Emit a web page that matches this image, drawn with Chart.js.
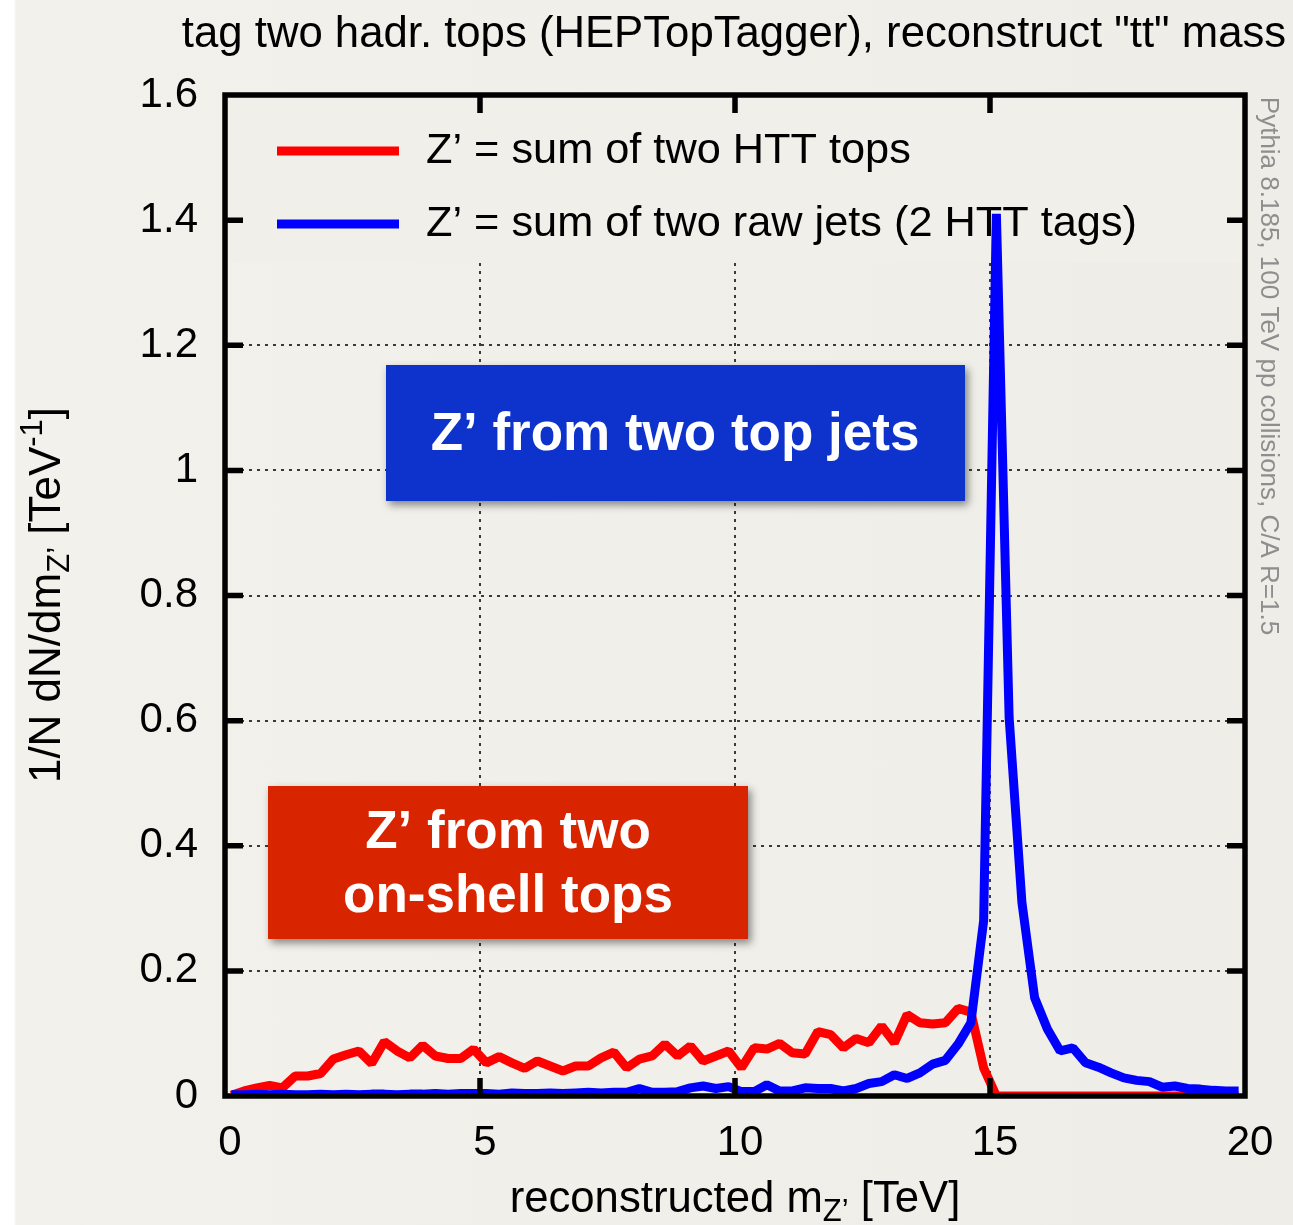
<!DOCTYPE html>
<html><head><meta charset="utf-8">
<script src="https://cdn.jsdelivr.net/npm/chart.js@4.4.1/dist/chart.umd.min.js"></script>
<style>
html,body{margin:0;padding:0;background:#f1efea;}
#wrap{position:relative;width:1293px;height:1225px;background:linear-gradient(to right,#ffffff 0,#ffffff 14px,#f3f1ec 16px,#efede8 100%);overflow:hidden;}
canvas{position:absolute;left:0;top:0;}
</style></head><body><div id="wrap"><canvas id="c" width="1293" height="1225"></canvas></div>
<script>
// ---- data ----
const binCenters = [0.125,0.375,0.625,0.875,1.125,1.375,1.625,1.875,2.125,2.375,2.625,2.875,3.125,3.375,3.625,3.875,
4.125,4.375,4.625,4.875,5.125,5.375,5.625,5.875,6.125,6.375,6.625,6.875,7.125,7.375,7.625,7.875,
8.125,8.375,8.625,8.875,9.125,9.375,9.625,9.875,10.125,10.375,10.625,10.875,11.125,11.375,11.625,11.875,
12.125,12.375,12.625,12.875,13.125,13.375,13.625,13.875,14.125,14.375,14.625,14.875,15.125,15.375,15.625,15.875,
16.125,16.375,16.625,16.875,17.125,17.375,17.625,17.875,18.125,18.375,18.625,18.875,19.125,19.375,19.625,19.875];
const redValues = [0.001,0.008,0.013,0.017,0.013,0.032,0.032,0.036,0.059,0.066,0.072,0.052,0.087,0.072,0.061,0.081,
0.064,0.060,0.060,0.075,0.053,0.063,0.053,0.044,0.056,0.048,0.040,0.048,0.048,0.061,0.070,0.045,
0.059,0.064,0.083,0.064,0.080,0.056,0.064,0.072,0.045,0.077,0.075,0.084,0.069,0.067,0.103,0.098,
0.077,0.092,0.085,0.112,0.085,0.130,0.117,0.115,0.117,0.140,0.134,0.045,0,0,0,0,
0,0,0,0,0,0,0,0,0,0,0,0,0,0,0,0];
const blueValues = [0.002,0.002,0.003,0.002,0.003,0.002,0.002,0.003,0.002,0.003,0.002,0.003,0.003,0.002,0.003,0.003,
0.004,0.003,0.004,0.004,0.004,0.003,0.005,0.004,0.004,0.005,0.004,0.005,0.006,0.005,0.006,0.006,
0.012,0.006,0.006,0.007,0.013,0.016,0.012,0.015,0.007,0.007,0.018,0.008,0.008,0.013,0.012,0.012,
0.008,0.012,0.020,0.023,0.034,0.028,0.037,0.051,0.057,0.083,0.117,0.280,1.410,0.605,0.310,0.157,
0.107,0.072,0.077,0.053,0.046,0.037,0.029,0.025,0.023,0.014,0.016,0.012,0.011,0.009,0.008,0.008];
const xTickValues = [0,5,10,15,20];
const xTickLabels = ["0","5","10","15","20"];
const yTickValues = [0,0.2,0.4,0.6,0.8,1.0,1.2,1.4,1.6];
const yTickLabels = ["0","0.2","0.4","0.6","0.8","1","1.2","1.4","1.6"];
const seriesLabels = ["Z\u2019 = sum of two HTT tops","Z\u2019 = sum of two raw jets (2 HTT tags)"];
const titleText = 'tag two hadr. tops (HEPTopTagger), reconstruct "tt" mass';
const sideText = "Pythia 8.185, 100 TeV pp collisions, C/A R=1.5";

// ---- styling ----
const FONT = '"Liberation Sans", Arial, Helvetica, sans-serif';
const BG = '#f1efea';
const RED = '#ff0000', BLUE = '#0000ff';

function pts(vals){ return binCenters.map((x,i)=>({x:x, y:vals[i]})); }

const keyPlugin = {
  id:'keyPlugin',
  beforeDatasetsDraw(chart){
    const ctx = chart.ctx, a = chart.chartArea;
    ctx.save();
    ctx.fillStyle = BG;
    ctx.fillRect(a.left, a.top, a.right - a.left, 262 - a.top);
    const rows = [151, 224];
    chart.data.datasets.forEach((ds,i)=>{
      ctx.strokeStyle = ds.borderColor; ctx.lineWidth = 9; ctx.lineCap='butt';
      ctx.beginPath(); ctx.moveTo(277, rows[i]); ctx.lineTo(399, rows[i]); ctx.stroke();
      ctx.fillStyle = '#000'; ctx.font = '43.3px ' + FONT; ctx.textBaseline='middle'; ctx.textAlign='left';
      ctx.fillText(ds.label, 426, rows[i]);
    });
    ctx.restore();
  }
};

const framePlugin = {
  id:'framePlugin',
  afterDatasetsDraw(chart){
    const ctx = chart.ctx, a = chart.chartArea, xs = chart.scales.x, ys = chart.scales.y;
    ctx.save();
    ctx.strokeStyle = '#000'; ctx.lineWidth = 5.5; ctx.lineCap='butt';
    ctx.strokeRect(a.left, a.top, a.right - a.left, a.bottom - a.top);
    const L = 18;
    ctx.beginPath();
    xTickValues.slice(1,-1).forEach(v=>{
      const px = xs.getPixelForValue(v);
      ctx.moveTo(px, a.bottom); ctx.lineTo(px, a.bottom - L);
      ctx.moveTo(px, a.top); ctx.lineTo(px, a.top + L);
    });
    yTickValues.slice(1,-1).forEach(v=>{
      const py = ys.getPixelForValue(v);
      ctx.moveTo(a.left, py); ctx.lineTo(a.left + L, py);
      ctx.moveTo(a.right, py); ctx.lineTo(a.right - L, py);
    });
    ctx.stroke();
    ctx.restore();
  }
};

function drawRuns(ctx, runs, x, y, align){
  let total = 0;
  runs.forEach(r=>{ ctx.font = r.size + 'px ' + FONT; r.w = ctx.measureText(r.t).width; total += r.w; });
  let cx = align === 'center' ? x - total/2 : x;
  runs.forEach(r=>{ ctx.font = r.size + 'px ' + FONT; ctx.fillText(r.t, cx, y + (r.dy||0)); cx += r.w; });
}

const textPlugin = {
  id:'textPlugin',
  afterDraw(chart){
    const ctx = chart.ctx;
    ctx.save();
    ctx.fillStyle = '#000'; ctx.textAlign='left'; ctx.textBaseline='alphabetic';
    // title
    ctx.font = '43.7px ' + FONT;
    ctx.textAlign = 'center';
    ctx.fillText(titleText, 734, 47);
    ctx.textAlign = 'left';
    // x axis title
    drawRuns(ctx, [{t:'reconstructed m', size:43.7},{t:'Z\u2019', size:31, dy:9},{t:' [TeV]', size:43.7}], 735, 1212, 'center');
    // y axis title
    ctx.save();
    ctx.translate(60, 595); ctx.rotate(-Math.PI/2);
    drawRuns(ctx, [{t:'1/N dN/dm', size:44},{t:'Z\u2019', size:31, dy:9},{t:' [TeV', size:44},{t:'-1', size:31, dy:-18},{t:']', size:44}], 0, 0, 'center');
    ctx.restore();
    // side text
    ctx.save();
    ctx.translate(1261, 366); ctx.rotate(Math.PI/2);
    ctx.fillStyle = '#8e8e8e'; ctx.font = '26px ' + FONT; ctx.textAlign='center'; ctx.textBaseline='alphabetic';
    ctx.fillText(sideText, 0, 0);
    ctx.restore();
    // annotation boxes
    const boxes = [
      {x:386, y:365, w:579, h:136, color:'#0d33cc', lines:['Z\u2019 from two top jets'], cx:675, ys:[435]},
      {x:268, y:786, w:480, h:153, color:'#d92400', lines:['Z\u2019 from two','on-shell tops'], cx:508, ys:[833,897]}
    ];
    boxes.forEach(b=>{
      ctx.save();
      ctx.shadowColor = 'rgba(0,0,0,0.45)'; ctx.shadowBlur = 8; ctx.shadowOffsetX = 3; ctx.shadowOffsetY = 4;
      ctx.fillStyle = b.color; ctx.fillRect(b.x, b.y, b.w, b.h);
      ctx.restore();
      ctx.fillStyle = '#fff'; ctx.font = 'bold 53px ' + FONT; ctx.textAlign='center'; ctx.textBaseline='middle';
      b.lines.forEach((l,i)=> ctx.fillText(l, b.cx, b.ys[i]));
    });
    ctx.restore();
  }
};

new Chart(document.getElementById('c'), {
  type:'line',
  data:{ datasets:[
    {label:seriesLabels[0], data:pts(redValues), borderColor:RED, borderWidth:9, pointRadius:0, tension:0, borderJoinStyle:'bevel', order:1, fill:false},
    {label:seriesLabels[1], data:pts(blueValues), borderColor:BLUE, borderWidth:9, pointRadius:0, tension:0, borderJoinStyle:'bevel', order:0, fill:false}
  ]},
  options:{
    responsive:false, animation:false, devicePixelRatio:1,
    layout:{padding:{top:95, right:48, left:0, bottom:0}},
    plugins:{legend:{display:false}, title:{display:false}, tooltip:{enabled:false}},
    scales:{
      x:{type:'linear', min:0, max:20,
        afterFit(s){ s.height = 129; },
        afterBuildTicks(s){ s.ticks = xTickValues.map(v=>({value:v})); },
        ticks:{ callback:(v,i)=>xTickLabels[i], font:{family:FONT, size:42}, color:'#000', padding:22, labelOffset:5, maxRotation:0, autoSkip:false },
        grid:{ color:(c)=> (c.tick && c.tick.value>0 && c.tick.value<20) ? '#3a3a3a' : 'rgba(0,0,0,0)', lineWidth:2, drawTicks:false },
        border:{ display:false, dash:[3,5] }
      },
      y:{type:'linear', min:0, max:1.6,
        afterFit(s){ s.width = 225; },
        afterBuildTicks(s){ s.ticks = yTickValues.map(v=>({value:v})); },
        ticks:{ callback:(v,i)=>yTickLabels[i], font:{family:FONT, size:42}, color:'#000', padding:27, autoSkip:false },
        grid:{ color:(c)=> (c.tick && c.tick.value>0.001 && c.tick.value<1.599) ? '#3a3a3a' : 'rgba(0,0,0,0)', lineWidth:2, drawTicks:false },
        border:{ display:false, dash:[3,5] }
      }
    }
  },
  plugins:[keyPlugin, framePlugin, textPlugin]
});
</script></body></html>
